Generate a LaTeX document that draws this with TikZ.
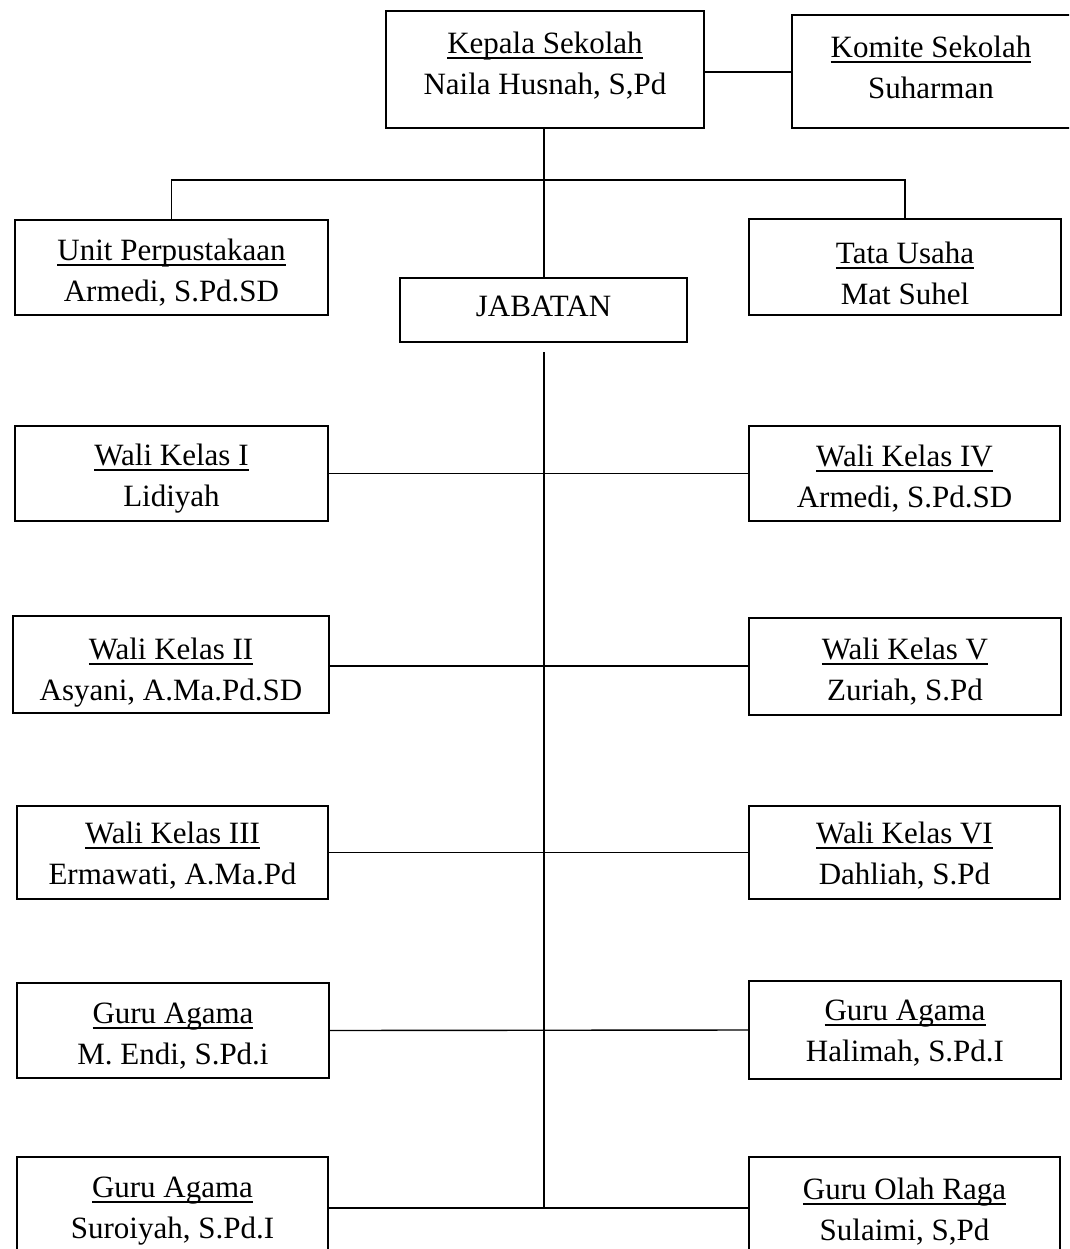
\documentclass[tikz,border=0pt]{standalone}
\usepackage{fontspec}
\setmainfont{Liberation Serif}
\newcommand\myul[1]{\leavevmode\vtop{\hbox{#1}\kern\dimexpr 3.5pt-\prevdepth\relax\hrule height 2pt}}
\begin{document}
\begin{tikzpicture}[x=1pt,y=-1pt,
  boxst/.style={draw, line width=1.6pt, rectangle, inner sep=0pt, outer sep=0pt},
  txt/.style={align=center, inner sep=0pt, font=\fontsize{31}{41}\selectfont},
  conn/.style={line width=1.4pt}]
\newcommand\OB[9]{%
  \node[boxst, minimum width={(#4-#2)*1pt}, minimum height={(#5-#3)*1pt}] (#1) at ({(#2+#4)/2},{(#3+#5)/2}) {};
  \node[txt] (#1-t) at (#6,#7+3.5) {\myul{#8}\\#9};}
\useasboundingbox (0,0) rectangle (1069,1249);
\clip (0,0) rectangle (1069,1249);
\fill[white] (0,0) rectangle (1069,1249);
% top
\OB{kep}{386}{11}{704}{128}{545}{62}{Kepala Sekolah}{Naila Husnah, S,Pd}
\OB{kom}{792}{15}{1090}{128}{931}{63.5}{Komite Sekolah}{Suharman}
\OB{unit}{15}{220}{328}{315}{171.5}{269.5}{Unit Perpustakaan}{Armedi, S.Pd.SD}
\OB{tata}{749}{219}{1061}{315}{905}{269.5}{Tata Usaha}{Mat Suhel}
\node[boxst, minimum width=287pt, minimum height=64pt] (jab) at (543.5,310) {};
\node[txt] (jab-t) at (543.5,306) {JABATAN};
% rows
\OB{l1}{15}{426}{328}{521}{171.5}{475.5}{Wali Kelas I}{Lidiyah}
\OB{r1}{749}{426}{1060}{521}{904.5}{475.5}{Wali Kelas IV}{Armedi, S.Pd.SD}
\OB{l2}{13}{616}{329}{713}{171}{669}{Wali Kelas II}{Asyani, A.Ma.Pd.SD}
\OB{r2}{749}{618}{1061}{715}{905}{668.5}{Wali Kelas V}{Zuriah, S.Pd}
\OB{l3}{17}{806}{328}{899}{172.5}{852.5}{Wali Kelas III}{Ermawati, A.Ma.Pd}
\OB{r3}{749}{806}{1060}{899}{904.5}{852.5}{Wali Kelas VI}{Dahliah, S.Pd}
\OB{l4}{17}{983}{329}{1078}{173}{1032.5}{Guru Agama}{M. Endi, S.Pd.i}
\OB{r4}{749}{981}{1061}{1079}{905}{1030}{Guru Agama}{Halimah, S.Pd.I}
\OB{l5}{17}{1157}{328}{1262}{172.5}{1208}{Guru Agama}{Suroiyah, S.Pd.I}
\OB{r5}{749}{1157}{1060}{1262}{904.5}{1208}{Guru Olah Raga}{Sulaimi, S,Pd}
% connectors
\coordinate (hk) at (544,72);
\draw[conn] (kep.east |- hk) -- (kom.west |- hk);
\coordinate (kb) at (544,128);
\coordinate (jt) at (544,278);
\draw[conn] (kb) -- (jt);
\coordinate (bar) at (544,180);
\draw[conn] (unit.north) -- (unit.north |- bar) -- (tata.north |- bar) -- (tata.north);
\coordinate (vtop) at (544,352);
\coordinate (vbot) at (544,1208);
\draw[conn] (vtop) -- (vbot);
\draw[conn] (l1.east) -- (r1.west);
\coordinate (h2) at (544,666);
\draw[conn] (l2.east |- h2) -- (r2.west |- h2);
\draw[conn] (l3.east) -- (r3.west);
\draw[conn] (l4.east) -- (r4.west);
\draw[conn] (l5.east |- vbot) -- (r5.west |- vbot);
\end{tikzpicture}
\end{document}
